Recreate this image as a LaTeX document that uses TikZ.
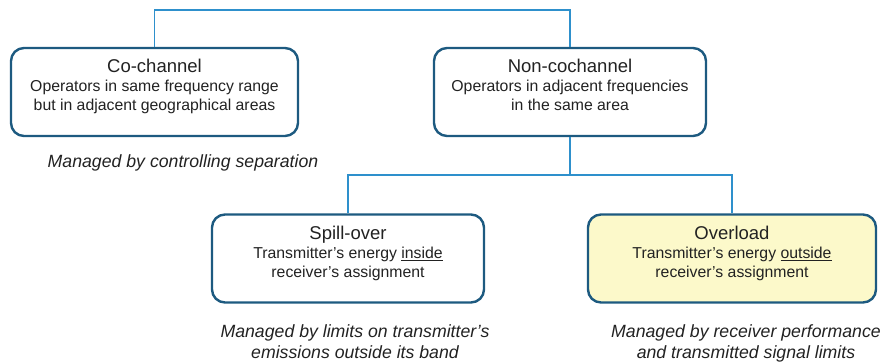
\documentclass[tikz,border=0pt]{standalone}
\usepackage{fontspec}
\setmainfont{Liberation Sans}
\definecolor{boxline}{HTML}{1D5A80}
\definecolor{conn}{HTML}{2E90CC}
\definecolor{ovfill}{HTML}{FCF9CA}
\definecolor{txtc}{HTML}{222222}
\tikzset{
  catbox/.style={draw=boxline, line width=2.4pt, rounded corners=13pt, fill=white, minimum height=88pt, inner sep=0pt},
  conline/.style={draw=conn, line width=1.5pt},
  boxtext/.style={align=center, text=txtc, inner sep=0pt, anchor=base, font=\fontsize{15.8}{19.2}\selectfont},
  caption/.style={align=center, text=txtc, inner sep=0pt, anchor=base, font=\fontsize{17.7}{21}\selectfont\itshape}
}
\newcommand{\ttl}[1]{{\fontsize{18.5}{19.2}\selectfont #1}}
\newcommand{\ul}[1]{\setbox0\hbox{#1}\rlap{\raisebox{-3pt}{\rule{\wd0}{1.4pt}}}\box0}
\begin{document}
\begin{tikzpicture}[x=1pt,y=-1pt]
\useasboundingbox (0,0) rectangle (883,363);
% boxes
\node[catbox, minimum width=287pt] (co) at (154.5,92) {};
\node[catbox, minimum width=272pt] (nc) at (570,92) {};
\node[catbox, minimum width=272pt] (sp) at (348,258.5) {};
\node[catbox, minimum width=288pt, fill=ovfill] (ov) at (732,258.5) {};
% connectors
\coordinate (top) at (0,10);
\coordinate (mid) at (0,175);
\draw[conline] (co.north) |- (top -| nc.north) -- (nc.north);
\draw[conline] (nc.south) -- (mid -| nc.south);
\draw[conline] (sp.north) |- (mid -| ov.north) -- (ov.north);
% box texts (anchor = baseline of last line)
\node[boxtext] (cot) at (154.5,111) {\ttl{Co-channel}\\Operators in same frequency range\\but in adjacent geographical areas};
\node[boxtext] (nct) at (570,111) {\ttl{Non-cochannel}\\Operators in adjacent frequencies\\in the same area};
\node[boxtext] (spt) at (348,277.5) {\ttl{Spill-over}\\Transmitter’s energy \ul{inside}\\receiver’s assignment};
\node[boxtext] (ovt) at (732,277.5) {\ttl{Overload}\\Transmitter’s energy \ul{outside}\\receiver’s assignment};
% captions
\node[caption] (coc) at (183,168) {Managed by controlling separation};
\node[caption] (spc) at (355,358) {Managed by limits on transmitter’s\\emissions outside its band};
\node[caption] (ovc) at (746,358) {Managed by receiver performance\\and transmitted signal limits};
\end{tikzpicture}
\end{document}
